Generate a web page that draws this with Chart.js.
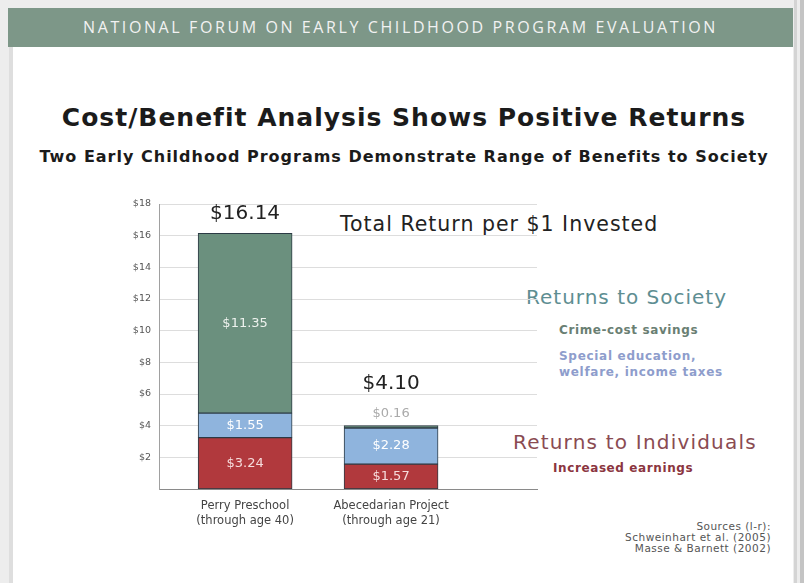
<!DOCTYPE html>
<html>
<head>
<meta charset="utf-8">
<script src="https://cdn.jsdelivr.net/npm/chart.js@4.4.1/dist/chart.umd.min.js"></script>
<style>
  html, body { margin: 0; padding: 0; }
  body { width: 804px; height: 583px; position: relative; overflow: hidden; background: #ededed; font-family: "DejaVu Sans", Verdana, sans-serif; }
  #card { position: absolute; left: 9px; top: 8px; width: 784px; height: 575px; background: #fff; border-left: 4px solid #dedede; box-sizing: border-box; }
  #shade { position: absolute; left: 794px; top: 0; width: 10px; height: 583px; background: linear-gradient(to right, #d4d4d4 0, #d4d4d4 3px, #ececec 3px, #ececec 6px, #c4c4c4 6px); }
  #band { position: absolute; left: 8px; top: 8px; width: 785px; height: 39px; background: #7d9788; }
  .t { position: absolute; white-space: nowrap; }
  #chart { position: absolute; left: 0; top: 0; }
</style>
</head>
<body>
<div id="card"></div>
<div id="shade"></div>
<div id="band"></div>
<div class="t" style="left:8px;width:785px;top:16px;line-height:22px;text-align:center;font-family:'Open Sans';font-size:16px;letter-spacing:2.6px;color:#f2f2f2;">NATIONAL FORUM ON EARLY CHILDHOOD PROGRAM EVALUATION</div>
<div class="t" style="left:0;width:808px;top:103px;line-height:30px;text-align:center;font-size:25px;letter-spacing:1px;font-weight:bold;color:#1b1b1b;">Cost/Benefit Analysis Shows Positive Returns</div>
<div class="t" style="left:0;width:808px;top:147px;line-height:20px;text-align:center;font-size:16px;letter-spacing:1px;font-weight:bold;color:#1b1b1b;">Two Early Childhood Programs Demonstrate Range of Benefits to Society</div>
<div class="t" style="left:340px;top:212px;line-height:24px;font-size:20.5px;letter-spacing:1px;color:#222;">Total Return per $1 Invested</div>
<div class="t" style="left:526px;top:285px;line-height:24px;font-size:20px;letter-spacing:1px;color:#5e8e92;">Returns to Society</div>
<div class="t" style="left:559px;top:322px;line-height:16px;font-size:12px;letter-spacing:0.6px;font-weight:bold;color:#6a7f73;">Crime-cost savings</div>
<div class="t" style="left:559px;top:348px;line-height:16px;font-size:12px;letter-spacing:0.7px;font-weight:bold;color:#8e9dcc;">Special education,<br>welfare, income taxes</div>
<div class="t" style="left:513px;top:430px;line-height:24px;font-size:20px;letter-spacing:1.2px;color:#8a4b52;">Returns to Individuals</div>
<div class="t" style="left:553px;top:460px;line-height:16px;font-size:12px;letter-spacing:0.6px;font-weight:bold;color:#8b3540;">Increased earnings</div>
<div class="t" style="right:33px;top:521px;line-height:11px;font-size:10.5px;letter-spacing:0.5px;color:#555;text-align:right;">Sources (l-r):<br>Schweinhart et al. (2005)<br>Masse &amp; Barnett (2002)</div>
<canvas id="chart" width="804" height="583"></canvas>
<script>
const programs = [["Perry Preschool", "(through age 40)"], ["Abecedarian Project", "(through age 21)"]];
const earnings = [3.24, 1.57];
const specialEducation = [1.55, 2.28];
const crimeSavings = [11.35, 0.16];
const totalLabels = ["$16.14", "$4.10"];
const yTicks = [2, 4, 6, 8, 10, 12, 14, 16, 18];

const toPoints = (values) => values.map((v, i) => ({ x: i, y: v }));

const segmentText = ["#f6dcdc", "#ffffff", "#eef2ee"];

// value labels inside the segments and totals on top of each stack
const barLabels = {
  id: "barLabels",
  afterDatasetsDraw(chart) {
    const ctx = chart.ctx;
    ctx.save();
    ctx.textAlign = "center";
    ctx.textBaseline = "middle";
    programs.forEach((p, i) => {
      let top = null;
      let small = false;
      chart.data.datasets.forEach((ds, d) => {
        const bar = chart.getDatasetMeta(d).data[i];
        const v = ds.data[i].y;
        ctx.font = "13px 'DejaVu Sans'";
        if (v < 0.5) {
          small = true;
          ctx.fillStyle = "#aaaaaa";
          ctx.fillText("$" + v.toFixed(2), bar.x, bar.y - 12);
        } else {
          ctx.fillStyle = segmentText[d];
          ctx.fillText("$" + v.toFixed(2), bar.x, (bar.y + bar.base) / 2);
        }
        top = top === null ? bar.y : Math.min(top, bar.y);
      });
      const bar0 = chart.getDatasetMeta(0).data[i];
      ctx.font = "20px 'DejaVu Sans'";
      ctx.fillStyle = "#222";
      ctx.fillText(totalLabels[i], bar0.x, top - (small ? 42 : 20));
    });
    ctx.restore();
  }
};

new Chart(document.getElementById("chart"), {
  type: "bar",
  data: {
    datasets: [
      { label: "Increased earnings", data: toPoints(earnings), backgroundColor: "#b1393d" },
      { label: "Special education, welfare, income taxes", data: toPoints(specialEducation), backgroundColor: "#8fb4dd" },
      { label: "Crime-cost savings", data: toPoints(crimeSavings), backgroundColor: "#6b907e" }
    ]
  },
  options: {
    responsive: false,
    animation: false,
    layout: { padding: { left: 119, right: 267, top: 204, bottom: 44 } },
    datasets: {
      bar: { barThickness: 94, borderColor: "#2c3b45", borderWidth: 1, borderSkipped: false }
    },
    plugins: { legend: { display: false }, tooltip: { enabled: false } },
    scales: {
      x: {
        type: "linear",
        stacked: true,
        offset: false,
        min: -0.59,
        max: 2.0,
        afterFit(scale) { scale.height = 50; },
        afterBuildTicks(scale) { scale.ticks = programs.map((p, i) => ({ value: i })); },
        grid: { display: false, offset: false },
        border: { color: "#8a8a8a", width: 1 },
        ticks: {
          padding: 2,
          color: "#444",
          font: { family: "DejaVu Sans", size: 11.5, lineHeight: 1.3 },
          callback: (v) => programs[v]
        }
      },
      y: {
        stacked: true,
        min: 0,
        max: 18,
        afterFit(scale) { scale.width = 40; },
        afterBuildTicks(scale) { scale.ticks = yTicks.map((v) => ({ value: v })); },
        grid: { color: "#dddddd", drawTicks: false },
        border: { color: "#a0a0a0", width: 1 },
        ticks: {
          padding: 8,
          color: "#555",
          font: { family: "DejaVu Sans", size: 9.5 },
          callback: (v) => "$" + v
        }
      }
    }
  },
  plugins: [barLabels]
});
</script>
</body>
</html>
